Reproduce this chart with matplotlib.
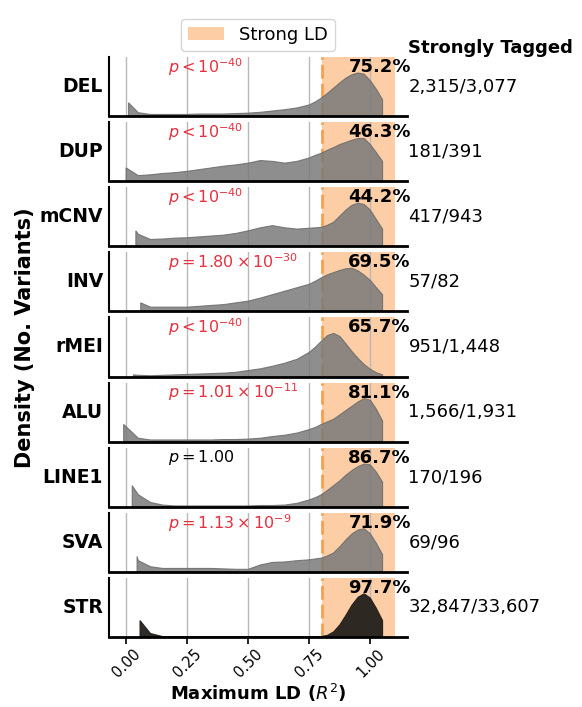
import numpy as np
import matplotlib
matplotlib.use("Agg")
import matplotlib.pyplot as plt
from matplotlib.patches import Patch

# categories, top to bottom
categories = ["DEL", "DUP", "mCNV", "INV", "rMEI", "ALU", "LINE1", "SVA", "STR"]
pct_labels = ["75.2%", "46.3%", "44.2%", "69.5%", "65.7%", "81.1%", "86.7%", "71.9%", "97.7%"]
count_labels = ["2,315/3,077", "181/391", "417/943", "57/82", "951/1,448",
                "1,566/1,931", "170/196", "69/96", "32,847/33,607"]
p_labels = [r"$p < 10^{-40}$", r"$p < 10^{-40}$", r"$p < 10^{-40}$",
            r"$p = 1.80 \times 10^{-30}$", r"$p < 10^{-40}$",
            r"$p = 1.01 \times 10^{-11}$", r"$p = 1.00$",
            r"$p = 1.13 \times 10^{-9}$", ""]
p_colors = ["#e8303f"] * 6 + ["black", "#e8303f", "black"]

# density (relative to peak)
start_x = [0.01, 0.0, 0.04, 0.06, 0.03, -0.01, 0.025, 0.045, 0.057]
start_y = [0.31, 0.31, 0.36, 0.20, 0.04, 0.40, 0.49, 0.36, 0.38]
ld_grid = [0.05, 0.10, 0.15, 0.20, 0.25, 0.30, 0.35, 0.40, 0.45, 0.50, 0.55,
           0.60, 0.65, 0.70,
           0.75, 0.775, 0.80, 0.825, 0.85, 0.875, 0.90, 0.925, 0.95, 0.975,
           1.00, 1.025, 1.05]
del_density = [0.08, 0.04, 0.04, 0.04, 0.04, 0.05, 0.05, 0.05, 0.06, 0.07, 0.09,
               0.12, 0.15, 0.19,
               0.26, 0.33, 0.42, 0.53, 0.65, 0.77, 0.88, 0.96, 1.00, 0.97,
               0.82, 0.62, 0.38]
dup_density = [0.13, 0.15, 0.18, 0.20, 0.23, 0.27, 0.31, 0.35, 0.38, 0.42, 0.48,
               0.46, 0.42, 0.46,
               0.54, 0.60, 0.65, 0.72, 0.78, 0.85, 0.90, 0.95, 0.99, 0.99,
               0.85, 0.66, 0.46]
mcnv_density = [0.28, 0.16, 0.17, 0.19, 0.20, 0.22, 0.24, 0.26, 0.30, 0.36, 0.43,
                0.48, 0.43, 0.40,
                0.42, 0.43, 0.44, 0.49, 0.56, 0.70, 0.84, 0.95, 1.00, 0.97,
                0.84, 0.62, 0.40]
inv_density = [0.00, 0.10, 0.10, 0.10, 0.10, 0.12, 0.14, 0.16, 0.20, 0.24, 0.31,
               0.39, 0.47, 0.55,
               0.63, 0.70, 0.78, 0.85, 0.90, 0.95, 0.99, 1.00, 0.94, 0.84,
               0.72, 0.55, 0.39]
rmei_density = [0.03, 0.02, 0.03, 0.04, 0.05, 0.06, 0.07, 0.08, 0.10, 0.14, 0.18,
                0.24, 0.31, 0.40,
                0.56, 0.68, 0.82, 0.95, 1.00, 0.93, 0.76, 0.58, 0.42, 0.28,
                0.17, 0.09, 0.04]
alu_density = [0.08, 0.04, 0.04, 0.04, 0.04, 0.04, 0.04, 0.05, 0.05, 0.06, 0.08,
               0.12, 0.15, 0.20,
               0.28, 0.33, 0.40, 0.46, 0.52, 0.62, 0.72, 0.82, 0.92, 1.00,
               0.96, 0.75, 0.48]
line1_density = [0.28, 0.10, 0.04, 0.02, 0.02, 0.02, 0.02, 0.02, 0.02, 0.02, 0.03,
                 0.03, 0.04, 0.08,
                 0.16, 0.21, 0.28, 0.38, 0.49, 0.60, 0.73, 0.84, 0.93, 0.99,
                 0.97, 0.80, 0.57]
sva_density = [0.26, 0.12, 0.08, 0.08, 0.08, 0.08, 0.08, 0.07, 0.06, 0.06, 0.16,
               0.22, 0.23, 0.26,
               0.28, 0.30, 0.32, 0.37, 0.44, 0.58, 0.74, 0.88, 0.97, 1.00,
               0.88, 0.66, 0.40]
str_density = [0.00, 0.08, 0.01, 0.00, 0.00, 0.00, 0.00, 0.00, 0.00, 0.00, 0.00,
               0.00, 0.00, 0.00,
               0.00, 0.00, 0.01, 0.04, 0.12, 0.28, 0.50, 0.74, 0.92, 1.00,
               0.90, 0.66, 0.38]
densities = [del_density, dup_density, mcnv_density, inv_density, rmei_density,
             alu_density, line1_density, sva_density, str_density]

xticks = [0.0, 0.25, 0.5, 0.75, 1.0]
span_color = "#fdae6b"

fig, axes = plt.subplots(9, 1, figsize=(5.82, 7.07), dpi=100, sharex=True)
fig.subplots_adjust(left=0.1873, right=0.6993, top=0.9194, bottom=0.099, hspace=0.1)

for i, ax in enumerate(axes):
    dens = densities[i]
    keep = [j for j, g in enumerate(ld_grid) if g > start_x[i] + 0.005]
    xs = [start_x[i], start_x[i]] + [ld_grid[j] for j in keep] + [ld_grid[-1]]
    ys = [0, start_y[i]] + [dens[j] for j in keep] + [0]

    ax.axvspan(0.8, 1.1, color=span_color, alpha=0.6, lw=0, zorder=0)
    for t in xticks:
        ax.axvline(t, color="#b8b8b8", lw=1, zorder=1)
    ax.axvline(0.8, color="#f5a050", lw=2, ls=(0, (5, 1.8)), zorder=1.5)

    if categories[i] == "STR":
        ax.fill(xs, ys, color="#231f1c", alpha=0.95, lw=0.8, zorder=2)
    else:
        ax.fill(xs, ys, facecolor="#7a7a7a", edgecolor="#6a6a6a", alpha=0.85,
                lw=0.8, zorder=2)

    ax.set_xlim(-0.07, 1.15)
    ax.set_ylim(0, 1.37)
    ax.set_yticks([])
    for s in ["top", "right"]:
        ax.spines[s].set_visible(False)
    ax.spines["left"].set_linewidth(1.5)
    ax.spines["bottom"].set_linewidth(2)

    ax.text(-0.02, 0.5, categories[i], transform=ax.transAxes, ha="right",
            va="center", fontsize=13.5, fontweight="bold")
    ax.text(1.005, 0.5, count_labels[i], transform=ax.transAxes, ha="left",
            va="center", fontsize=13)
    ax.text(1.013, 0.83, pct_labels[i], transform=ax.transAxes, ha="right",
            va="center", fontsize=13, fontweight="bold")
    if p_labels[i]:
        ax.text(0.17, 0.83, p_labels[i], transform=ax.get_xaxis_transform(),
                ha="left", va="center", fontsize=11.5, color=p_colors[i])

    if i < len(axes) - 1:
        ax.tick_params(axis="x", bottom=False, labelbottom=False)

bottom = axes[-1]
bottom.set_xticks(xticks)
bottom.set_xticklabels(["0.00", "0.25", "0.50", "0.75", "1.00"], rotation=45,
                       fontsize=10.5)
bottom.tick_params(axis="x", length=5, width=1.2, pad=2)
bottom.set_xlabel(r"Maximum LD ($R^2$)", fontsize=13, fontweight="bold", labelpad=1)

axes[0].text(1.005, 1.155, "Strongly Tagged", transform=axes[0].transAxes,
             ha="left", va="center", fontsize=13, fontweight="bold")
axes[0].legend(handles=[Patch(facecolor=span_color, alpha=0.6, label="Strong LD")],
               loc="lower center", bbox_to_anchor=(0.5, 1.1), borderaxespad=0,
               fontsize=13, frameon=True, handlelength=2)

fig.text(0.043, 0.523, "Density (No. Variants)", rotation=90, ha="center",
         va="center", fontsize=15, fontweight="bold")

fig.savefig("out.png", dpi=100)
